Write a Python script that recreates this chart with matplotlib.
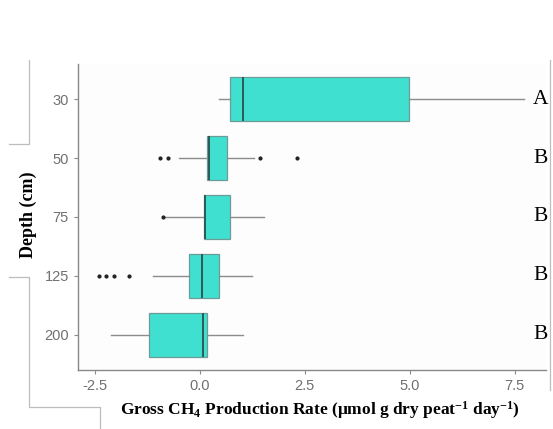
import numpy as np
import matplotlib.pyplot as plt
from matplotlib.lines import Line2D

plt.rcParams['mathtext.fontset'] = 'custom'
plt.rcParams['mathtext.rm'] = 'Liberation Serif:bold'
plt.rcParams['mathtext.it'] = 'Liberation Serif:bold'
plt.rcParams['mathtext.bf'] = 'Liberation Serif:bold'

# depth classes and box statistics (umol g dry peat-1 day-1)
depths = ['30', '50', '75', '125', '200']
q1 = [0.71, 0.17, 0.09, -0.26, -1.21]
med = [1.02, 0.22, 0.12, 0.05, 0.07]
q3 = [4.98, 0.65, 0.71, 0.45, 0.17]
whis_lo = [0.45, -0.49, -0.82, -1.12, -2.13]
whis_hi = [7.71, 1.29, 1.53, 1.24, 1.02]
outliers = [[], [-0.95, -0.77, 1.43, 2.31], [-0.87], [-2.40, -2.23, -2.04, -1.68], []]
groups = ['A', 'B', 'B', 'B', 'B']

stats = []
for i in range(len(depths)):
    stats.append(dict(label=depths[i], q1=q1[i], med=med[i], q3=q3[i],
                      whislo=whis_lo[i], whishi=whis_hi[i], fliers=outliers[i]))

fig = plt.figure(figsize=(5.53, 4.29), dpi=100)
ax = fig.add_axes([0.141, 0.1375, 0.846, 0.7135])
pos = np.arange(1, len(depths) + 1)
ax.bxp(stats, positions=pos, vert=False, widths=0.75, patch_artist=True,
       boxprops=dict(facecolor='#40E0D0', edgecolor='#6b9c97', linewidth=0.9),
       medianprops=dict(color='#2c5a55', linewidth=1.4),
       whiskerprops=dict(color='#8c8c8c', linewidth=1.0),
       capprops=dict(linewidth=0),
       flierprops=dict(marker='o', markersize=2, markerfacecolor='#222222',
                       markeredgecolor='#222222'))

ax.set_xlim(-2.905, 8.24)
ax.set_ylim(5.6, 0.4)
ax.set_xticks([-2.5, 0.0, 2.5, 5.0, 7.5])
ax.set_xticklabels(['-2.5', '0.0', '2.5', '5.0', '7.5'])
ax.set_yticks(pos)
ax.set_yticklabels(depths)
ax.tick_params(colors='#8a8a8a', labelcolor='#707070', labelsize=10.5, length=3, width=0.8)
for lab in ax.get_xticklabels() + ax.get_yticklabels():
    lab.set_family('Liberation Sans')
for s in ['top', 'right']:
    ax.spines[s].set_visible(False)
for s in ['left', 'bottom']:
    ax.spines[s].set_color('#888888')
    ax.spines[s].set_linewidth(1.0)
ax.set_facecolor('#fdfdfd')

# significance letters
for p, g in zip(pos, groups):
    ax.text(8.12, p, g, family='Liberation Serif', fontsize=15.5, va='center', ha='center')

fig.text(0.579, 0.044, r'Gross CH$_4$ Production Rate ($\mathrm{\mu}$mol g dry peat$^{-1}$ day$^{-1}$)',
         family='Liberation Serif', fontweight='bold', fontsize=12.5, ha='center', va='center')
fig.text(0.052, 0.499, 'Depth (cm)', rotation=90, family='Liberation Serif',
         fontweight='bold', fontsize=13, ha='center', va='center')

# frame lines around the panel
W, H = 553.0, 429.0
def seg(xs, ys):
    fig.add_artist(Line2D([x / W for x in xs], [1 - y / H for y in ys],
                          color='#bdbdbd', linewidth=0.9, transform=fig.transFigure))

seg([29, 29, 9], [60, 144, 144])
seg([9, 29, 29, 100, 100], [277, 277, 407, 407, 429])
seg([550, 550], [60, 390])

fig.savefig('out.png', dpi=100, facecolor='white')
